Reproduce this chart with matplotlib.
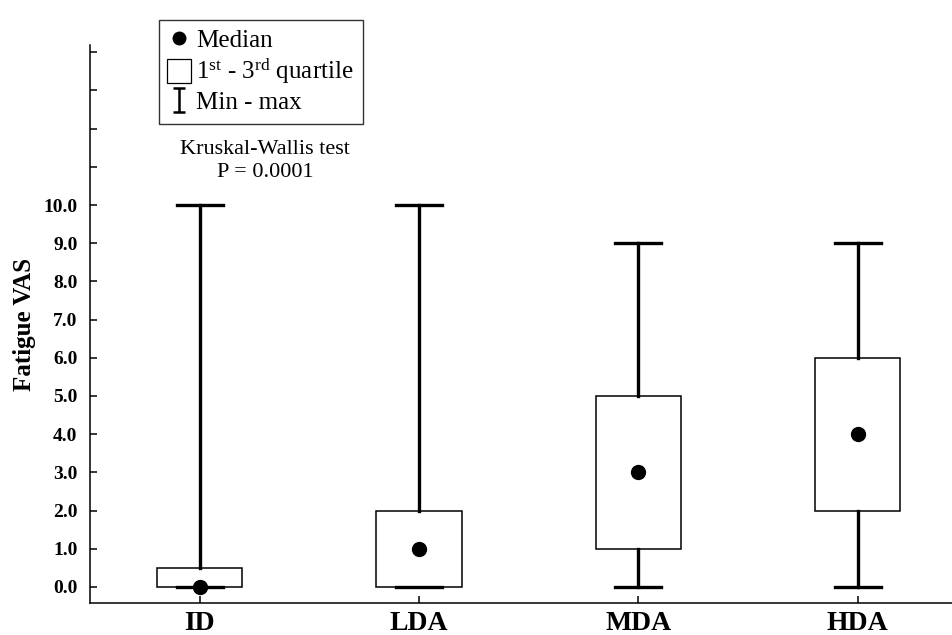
import numpy as np
import matplotlib
matplotlib.use("Agg")
import matplotlib.pyplot as plt
from matplotlib.lines import Line2D
from matplotlib.path import Path

plt.rcParams["font.family"] = "Liberation Serif"
plt.rcParams["mathtext.fontset"] = "custom"
plt.rcParams["mathtext.rm"] = "Liberation Serif"
plt.rcParams["mathtext.it"] = "Liberation Serif:italic"
plt.rcParams["mathtext.bf"] = "Liberation Serif:bold"

groups = ["ID", "LDA", "MDA", "HDA"]
mins = [0, 0, 0, 0]
q1s = [0, 0, 1, 2]
medians = [0, 1, 3, 4]
q3s = [0.5, 2, 5, 6]
maxs = [10, 10, 9, 9]

fig = plt.figure(figsize=(9.52, 6.35), dpi=100)
ax = fig.add_axes([90 / 952, 1 - 603 / 635, 1 - 90 / 952, (603 - 45) / 635])

stats = []
for g, lo, a, m, b, hi in zip(groups, mins, q1s, medians, q3s, maxs):
    stats.append({"label": g, "whislo": lo, "q1": a, "med": m, "q3": b, "whishi": hi})

pos = np.arange(1, len(groups) + 1)
ax.bxp(stats, positions=pos, widths=0.39, showfliers=False, patch_artist=True,
       boxprops=dict(facecolor="white", edgecolor="black", linewidth=1.1),
       whiskerprops=dict(color="black", linewidth=2.4),
       capprops=dict(color="black", linewidth=2.4),
       medianprops=dict(linewidth=0),
       capwidths=0.21)
ax.plot(pos, medians, "o", color="black", markersize=10, zorder=5)

ax.set_xlim(0.5, 4.43)
ax.set_ylim(-0.42, 14.19)
ax.set_yticks(range(0, 15))
ax.set_yticklabels([f"{v:.1f}" if v <= 10 else "" for v in range(0, 15)])
ax.set_xticks(pos)
ax.set_xticklabels(groups)

for s in ["top", "right"]:
    ax.spines[s].set_visible(False)
for s in ["left", "bottom"]:
    ax.spines[s].set_linewidth(1.1)
ax.tick_params(axis="both", direction="in", length=5, width=1.1)
ax.tick_params(axis="y", labelsize=14, pad=9)
ax.tick_params(axis="x", labelsize=20, pad=6)
for lbl in ax.get_xticklabels() + ax.get_yticklabels():
    lbl.set_fontweight("bold")

ax.set_ylabel("Fatigue VAS", fontsize=18, fontweight="bold", labelpad=5)

ibeam = Path([(-0.5, 1), (0.5, 1), (0, 1), (0, -1), (-0.5, -1), (0.5, -1)],
             [Path.MOVETO, Path.LINETO, Path.MOVETO, Path.LINETO, Path.MOVETO, Path.LINETO])
handles = [
    Line2D([], [], marker="o", color="black", linestyle="none", markersize=9),
    Line2D([], [], marker="s", markerfacecolor="white", markeredgecolor="black",
           linestyle="none", markersize=17, markeredgewidth=0.9),
    Line2D([], [], marker=ibeam, color="black", linestyle="none", markersize=17,
           markeredgewidth=1.8),
]
labels = ["Median", r"1$^{\mathrm{st}}$ - 3$^{\mathrm{rd}}$ quartile", "Min - max"]
leg = fig.legend(handles, labels, loc="upper left",
                 bbox_to_anchor=(159 / 952, 1 - 20 / 635), borderaxespad=0,
                 fancybox=False, edgecolor="black", fontsize=18, frameon=True,
                 handlelength=0.8, handletextpad=0.3, borderpad=0.38, labelspacing=0.2)
leg.get_frame().set_linewidth(1.0)

fig.text(265 / 952, 1 - 161 / 635, "Kruskal-Wallis test\nP = 0.0001",
         ha="center", va="center", fontsize=16, linespacing=1.25)

fig.savefig("out.png", dpi=100)
